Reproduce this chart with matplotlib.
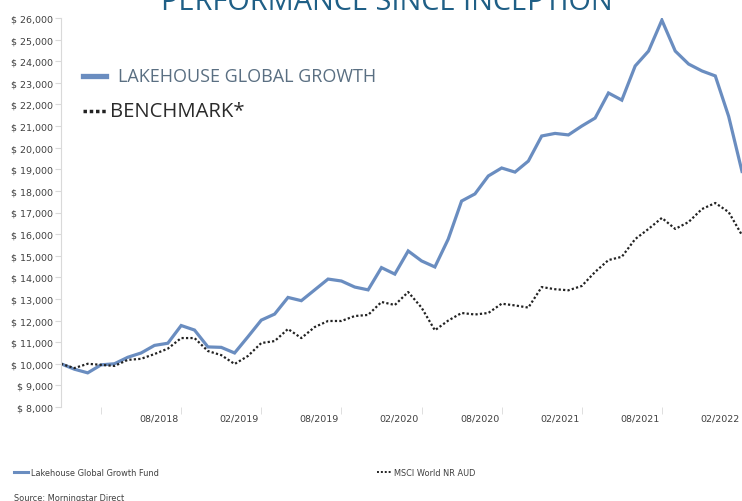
import matplotlib
matplotlib.use("Agg")
import matplotlib.pyplot as plt
from matplotlib import font_manager
from matplotlib.lines import Line2D
from matplotlib.ticker import FuncFormatter
import numpy as np

# monthly growth of $10,000
fund = [10000, 9750, 9580, 9950, 10000, 10300, 10500, 10850, 10950, 11770,
        11560, 10780, 10760, 10500, 11250, 12020, 12300, 13070, 12920, 13420,
        13920, 13830, 13550, 13420, 14450, 14150, 15220, 14760, 14480, 15770,
        17530, 17860, 18690, 19060, 18870, 19380, 20540, 20660, 20590, 21000,
        21370, 22530, 22200, 23780, 24470, 25900, 24470, 23870, 23550, 23320,
        21450, 18900]
bench = [10000, 9800, 10000, 9950, 9900, 10180, 10230, 10450, 10700, 11190,
         11190, 10590, 10400, 9990, 10360, 10960, 11050, 11610, 11190, 11700,
         11980, 11980, 12210, 12260, 12860, 12720, 13320, 12600, 11550, 12000,
         12350, 12280, 12350, 12780, 12700, 12600, 13550, 13450, 13400, 13600,
         14250, 14800, 14950, 15770, 16240, 16750, 16240, 16560, 17160, 17440,
         17020, 15950]
date_labels = ['08/2018', '02/2019', '08/2019', '02/2020',
               '08/2020', '02/2021', '08/2021', '02/2022']
fund_name = 'Lakehouse Global Growth Fund'
bench_name = 'MSCI World NR AUD'

W, H = 742, 502
BLUE = '#6a8dc0'
GREY = '#d9d9d9'

names = {f.name for f in font_manager.fontManager.ttflist}
narrow = 'Liberation Sans Narrow' if 'Liberation Sans Narrow' in names else 'DejaVu Sans'

fig = plt.figure(figsize=(W / 100, H / 100), dpi=100)
ax = fig.add_axes([61 / W, 1 - 408 / H, 1 - 61 / W, (408 - 19) / H])

x = np.arange(len(fund))
ax.plot(x, fund, color=BLUE, lw=2.3, solid_joinstyle='miter')
ax.plot(x, bench, color='#222222', lw=1.6, ls=(0, (1, 1)))

ax.set_xlim(0, 50.6)
ax.set_ylim(8000, 26000)
ax.set_yticks(np.arange(8000, 26001, 1000))
ax.yaxis.set_major_formatter(FuncFormatter(lambda v, p: '$ {:,.0f}'.format(v)))
ax.tick_params(axis='y', length=4, color=GREY, labelcolor='#404040',
               labelsize=6.8, pad=2)

ax.set_xticks(np.arange(len(date_labels)) * 6 + 7.35)
ax.set_xticklabels(date_labels)
ax.set_xticks(np.arange(9) * 6 + 3, minor=True)
ax.tick_params(axis='x', which='major', length=0, labelcolor='#404040',
               labelsize=6.8, pad=5)
ax.tick_params(axis='x', which='minor', length=5, color=GREY)

for s in ['top', 'right', 'bottom']:
    ax.spines[s].set_visible(False)
ax.spines['left'].set_color(GREY)

# title, cut off by the top edge
fig.text(387 / W, 1 - 10 / H, 'PERFORMANCE SINCE INCEPTION', ha='center',
         va='baseline', fontsize=20.8, color='#1f5f86', family='Open Sans')

# in-plot legend
fig.add_artist(Line2D([83 / W, 106 / W], [1 - 77 / H] * 2, color=BLUE, lw=3.8,
                      transform=fig.transFigure))
fig.text(118 / W, 1 - 77 / H, 'LAKEHOUSE GLOBAL GROWTH', va='center',
         fontsize=13, color='#5a6f82', family='Open Sans')
fig.add_artist(Line2D([83 / W, 107 / W], [1 - 112 / H] * 2, color='#222222',
                      lw=2.5, ls=(0, (1, 0.8)), transform=fig.transFigure))
fig.text(110 / W, 1 - 112 / H, 'BENCHMARK*', va='center',
         fontsize=14.6, color='#2a2a2a', family='Open Sans')

# bottom legend
small = dict(va='center', fontsize=6.6, color='#404040', family=narrow,
             stretch='condensed')
fig.add_artist(Line2D([14 / W, 28 / W], [1 - 473 / H] * 2, color=BLUE, lw=2.2,
                      transform=fig.transFigure))
fig.text(31 / W, 1 - 473 / H, fund_name, **small)
fig.add_artist(Line2D([377 / W, 391 / W], [1 - 473 / H] * 2, color='#222222',
                      lw=1.4, ls=(0, (1, 1)), transform=fig.transFigure))
fig.text(394 / W, 1 - 473 / H, bench_name, **small)
fig.text(14 / W, 1 - 499 / H, 'Source: Morningstar Direct', **small)

fig.savefig('out.png', dpi=100)
